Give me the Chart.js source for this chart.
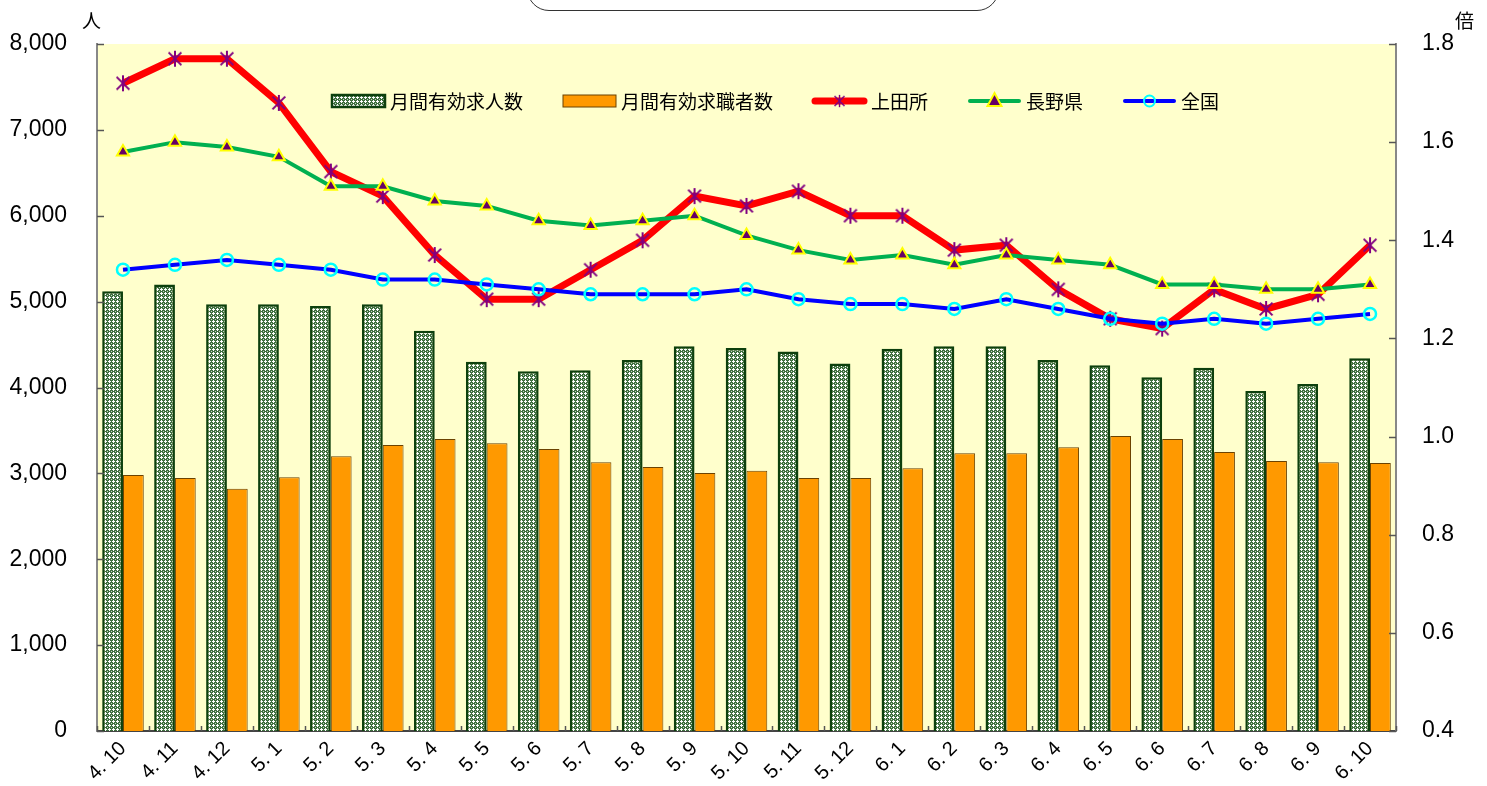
<!DOCTYPE html>
<html lang="ja">
<head>
    <meta charset="UTF-8">
    <title>月間有効求人数・求職者数と有効求人倍率</title>
    <style>
        body {
            margin: 0;
            padding: 0;
            background-color: #ffffff;
            font-family: "Noto Sans CJK JP", sans-serif;
        }

        .wrap {
            position: relative;
            width: 1487px;
            height: 786px;
            overflow: hidden;
        }

        .title-box {
            position: absolute;
            left: 527px;
            top: -40px;
            width: 470px;
            height: 49px;
            border: 1.5px solid #333333;
            border-radius: 22px;
            background: #ffffff;
        }

        .unit {
            position: absolute;
            top: 6px;
            font-size: 19px;
            color: #000000;
        }
    </style>
</head>
<body>
    <div class="wrap">
        <canvas id="chart"></canvas>
        <div class="title-box"></div>
        <span class="unit" style="left:82px;">人</span>
        <span class="unit" style="left:1455px;">倍</span>
    </div>

    <script src="https://cdn.jsdelivr.net/npm/chart.js"></script>
    <script>
        // 年.月
        const months = ['4. 10', '4. 11', '4. 12', '5. 1', '5. 2', '5. 3', '5. 4', '5. 5', '5. 6', '5. 7', '5. 8', '5. 9',
            '5. 10', '5. 11', '5. 12', '6. 1', '6. 2', '6. 3', '6. 4', '6. 5', '6. 6', '6. 7', '6. 8', '6. 9', '6. 10'];

        // 人（左軸）
        const openings = [5120, 5200, 4970, 4970, 4950, 4970, 4660, 4300, 4190, 4200, 4320, 4480,
            4460, 4420, 4280, 4450, 4480, 4480, 4320, 4260, 4120, 4230, 3960, 4040, 4340];
        const seekers = [2980, 2945, 2820, 2955, 3200, 3330, 3400, 3350, 3285, 3130, 3075, 3005,
            3030, 2945, 2945, 3060, 3235, 3235, 3305, 3435, 3400, 3250, 3145, 3130, 3120];

        // 倍（右軸）
        const ueda = [1.72, 1.77, 1.77, 1.68, 1.54, 1.49, 1.37, 1.28, 1.28, 1.34, 1.40, 1.49,
            1.47, 1.50, 1.45, 1.45, 1.38, 1.39, 1.30, 1.24, 1.22, 1.30, 1.26, 1.29, 1.39];
        const nagano = [1.58, 1.60, 1.59, 1.57, 1.51, 1.51, 1.48, 1.47, 1.44, 1.43, 1.44, 1.45,
            1.41, 1.38, 1.36, 1.37, 1.35, 1.37, 1.36, 1.35, 1.31, 1.31, 1.30, 1.30, 1.31];
        const zenkoku = [1.34, 1.35, 1.36, 1.35, 1.34, 1.32, 1.32, 1.31, 1.30, 1.29, 1.29, 1.29,
            1.30, 1.28, 1.27, 1.27, 1.26, 1.28, 1.26, 1.24, 1.23, 1.24, 1.23, 1.24, 1.25];

        // 網掛けパターン
        function makePattern() {
            const c = document.createElement('canvas');
            c.width = 4;
            c.height = 4;
            const g = c.getContext('2d');
            g.fillStyle = '#3f6f3f';
            g.fillRect(0, 0, 4, 4);
            g.fillStyle = '#ffffff';
            [[1, 0], [0, 1], [1, 1], [2, 1], [1, 2]].forEach(p => g.fillRect(p[0], p[1], 1, 1));
            g.fillStyle = '#c8d8c8';
            g.fillRect(3, 3, 1, 1);
            return g.createPattern(c, 'repeat');
        }

        // 上田所のマーカー（*）
        function makeAsterisk(size) {
            const c = document.createElement('canvas');
            c.width = size;
            c.height = size;
            const g = c.getContext('2d');
            g.strokeStyle = '#800080';
            g.lineWidth = 2;
            const m = size / 2, r = size / 2 - 1;
            g.beginPath();
            g.moveTo(m - r * 0.8, m - r * 0.8); g.lineTo(m + r * 0.8, m + r * 0.8);
            g.moveTo(m + r * 0.8, m - r * 0.8); g.lineTo(m - r * 0.8, m + r * 0.8);
            g.moveTo(m, m - r); g.lineTo(m, m + r);
            g.stroke();
            return c;
        }

        const pattern = makePattern();
        const asterisk = makeAsterisk(18);

        const bgPlugin = {
            id: 'plotBg',
            beforeDraw(chart) {
                const a = chart.chartArea, ctx = chart.ctx;
                ctx.save();
                ctx.fillStyle = '#ffffcc';
                ctx.fillRect(a.left, a.top, a.right - a.left, a.bottom - a.top);
                ctx.restore();
            }
        };

        // 内向きの目盛り線
        const innerTicks = {
            id: 'innerTicks',
            afterDatasetsDraw(chart) {
                const ctx = chart.ctx, a = chart.chartArea;
                ctx.save();
                ctx.lineWidth = 1.5;
                ctx.strokeStyle = '#555555';
                chart.scales.y.ticks.forEach(t => {
                    const py = Math.round(chart.scales.y.getPixelForValue(t.value)) + 0.5;
                    ctx.beginPath(); ctx.moveTo(a.left, py); ctx.lineTo(a.left + 7, py); ctx.stroke();
                });
                chart.scales.y1.ticks.forEach(t => {
                    const py = Math.round(chart.scales.y1.getPixelForValue(t.value)) + 0.5;
                    ctx.beginPath(); ctx.moveTo(a.right, py); ctx.lineTo(a.right - 7, py); ctx.stroke();
                });
                const x = chart.scales.x;
                for (let i = 0; i <= months.length; i++) {
                    const px = Math.round(x.getPixelForValue(i - 0.5)) + 0.5;
                    ctx.beginPath(); ctx.moveTo(px, a.bottom); ctx.lineTo(px, a.bottom - 5); ctx.stroke();
                }
                ctx.restore();
            }
        };

        // 凡例（プロット内）
        const legendPlugin = {
            id: 'innerLegend',
            afterDraw(chart) {
                const ctx = chart.ctx;
                const y = chart.chartArea.top + 57;
                let x = chart.chartArea.left + 235;
                ctx.save();
                ctx.font = '19px "Noto Sans CJK JP"';
                ctx.textBaseline = 'middle';
                chart.data.datasets.forEach(ds => {
                    const w = 53;
                    if (ds.type === 'bar') {
                        ctx.fillStyle = ds.backgroundColor;
                        ctx.fillRect(x, y - 6, w, 12);
                        ctx.lineWidth = ds.borderWidth;
                        ctx.strokeStyle = ds.borderColor;
                        ctx.strokeRect(x, y - 6, w, 12);
                    } else {
                        ctx.lineCap = 'round';
                        ctx.strokeStyle = ds.borderColor;
                        ctx.lineWidth = ds.borderWidth;
                        ctx.beginPath(); ctx.moveTo(x + 2, y); ctx.lineTo(x + w - 2, y); ctx.stroke();
                        const cx = x + w / 2;
                        if (ds.pointStyle === 'triangle') {
                            ctx.beginPath();
                            ctx.moveTo(cx, y - 8); ctx.lineTo(cx + 7, y + 5); ctx.lineTo(cx - 7, y + 5); ctx.closePath();
                            ctx.fillStyle = ds.pointBackgroundColor; ctx.fill();
                            ctx.lineWidth = 2; ctx.strokeStyle = ds.pointBorderColor; ctx.stroke();
                        } else if (ds.pointStyle === 'circle') {
                            ctx.beginPath(); ctx.arc(cx, y, 5.5, 0, Math.PI * 2);
                            ctx.lineWidth = 2; ctx.strokeStyle = ds.pointBorderColor; ctx.stroke();
                        } else {
                            ctx.drawImage(asterisk, cx - 7, y - 7, 14, 14);
                        }
                    }
                    x += w + 5;
                    ctx.fillStyle = '#000000';
                    ctx.fillText(ds.label, x, y + 1);
                    x += ctx.measureText(ds.label).width + 40;
                });
                ctx.restore();
            }
        };

        const tickFont = { family: '"Liberation Sans", Arial, sans-serif', size: 23 };

        new Chart(document.getElementById('chart'), {
            data: {
                labels: months,
                datasets: [
                    {
                        type: 'bar', label: '月間有効求人数', data: openings, yAxisID: 'y', order: 2,
                        backgroundColor: pattern, borderColor: '#0d400d', borderWidth: 2.5,
                        categoryPercentage: 0.8, barPercentage: 1.0
                    },
                    {
                        type: 'bar', label: '月間有効求職者数', data: seekers, yAxisID: 'y', order: 2,
                        backgroundColor: '#ff9900', borderColor: '#6b4200', borderWidth: 1,
                        categoryPercentage: 0.8, barPercentage: 1.0
                    },
                    {
                        type: 'line', label: '上田所', data: ueda, yAxisID: 'y1', order: 1,
                        borderColor: '#ff0000', borderWidth: 7, tension: 0,
                        pointStyle: asterisk, pointRadius: 9,
                        pointBackgroundColor: '#800080', pointBorderColor: '#800080'
                    },
                    {
                        type: 'line', label: '長野県', data: nagano, yAxisID: 'y1', order: 0,
                        borderColor: '#00b050', borderWidth: 4, tension: 0,
                        pointStyle: 'triangle', pointRadius: 7, pointBorderWidth: 2,
                        pointBackgroundColor: '#660066', pointBorderColor: '#ffff00'
                    },
                    {
                        type: 'line', label: '全国', data: zenkoku, yAxisID: 'y1', order: 0,
                        borderColor: '#0000ff', borderWidth: 4, tension: 0,
                        pointStyle: 'circle', pointRadius: 6, pointBorderWidth: 2.5,
                        pointBackgroundColor: 'rgba(0,0,0,0)', pointBorderColor: '#00ffff'
                    }
                ]
            },
            options: {
                responsive: true,
                maintainAspectRatio: false,
                animation: false,
                layout: { padding: { top: 44, left: 0, right: 0, bottom: 0 } },
                plugins: {
                    legend: { display: false },
                    tooltip: { enabled: false }
                },
                scales: {
                    x: {
                        grid: { display: false, drawTicks: false },
                        border: { display: true, color: '#444444', width: 2 },
                        ticks: {
                            color: '#000000', font: { family: tickFont.family, size: 20 },
                            minRotation: 45, maxRotation: 45, padding: 6, autoSkip: false
                        },
                        afterFit(s) { s.height = 55; }
                    },
                    y: {
                        position: 'left', min: 0, max: 8000,
                        grid: { display: false, drawTicks: false },
                        border: { display: true, color: '#888888', width: 2 },
                        ticks: {
                            stepSize: 1000, color: '#000000', font: tickFont, padding: 30,
                            callback: v => v.toLocaleString('en-US')
                        },
                        afterFit(s) { s.width = 97; }
                    },
                    y1: {
                        position: 'right', min: 0.4, max: 1.8,
                        grid: { display: false, drawTicks: false },
                        border: { display: true, color: '#888888', width: 2 },
                        ticks: {
                            stepSize: 0.2, color: '#000000', font: tickFont, padding: 26,
                            callback: v => Number(v).toFixed(1)
                        },
                        afterFit(s) { s.width = 91; }
                    }
                }
            },
            plugins: [bgPlugin, innerTicks, legendPlugin]
        });
    </script>
</body>
</html>
